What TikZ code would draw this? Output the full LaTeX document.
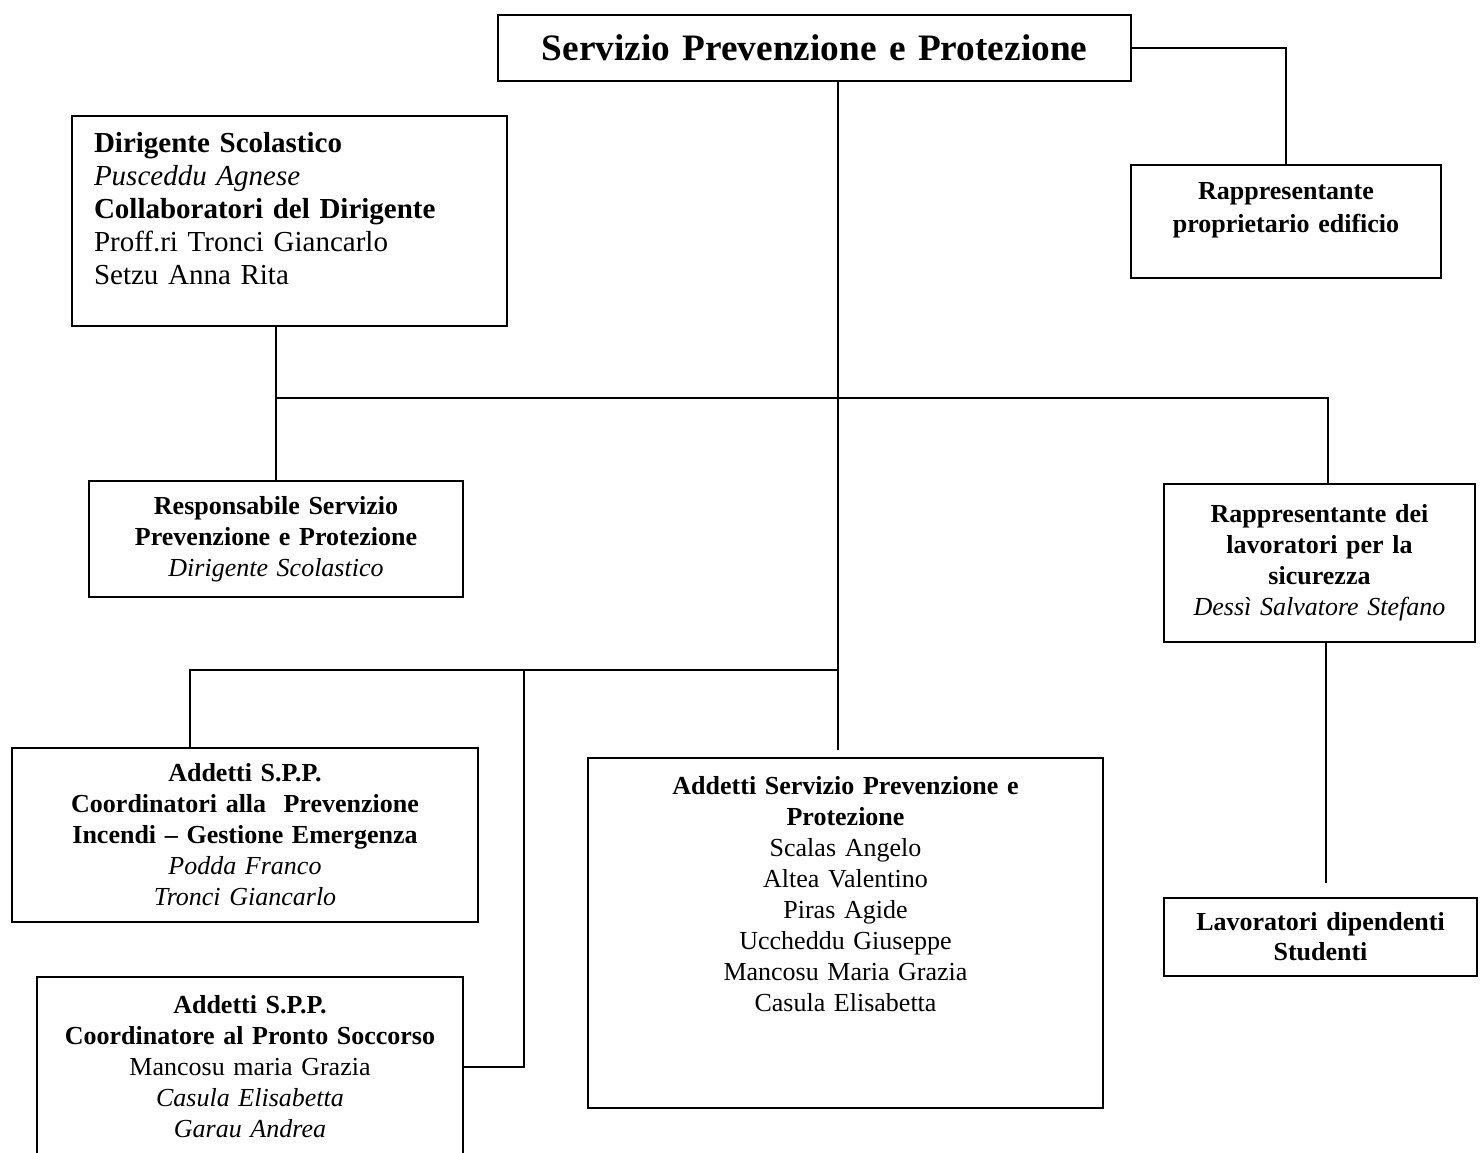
\documentclass[tikz,border=0pt]{standalone}
\usepackage{fontspec}
\setmainfont{Liberation Serif}
\tikzset{box/.style={draw, rectangle, line width=2pt, anchor=north west, inner sep=0pt, align=center}}
\tikzset{line/.style={draw, line width=2pt}}

\begin{document}
\begin{tikzpicture}[x=1pt, y=-1pt, font=\fontsize{26}{31}\selectfont]
    \useasboundingbox (0,0) rectangle (1481,1153);

    \node [box, minimum height=66pt, text width=633pt, font=\fontsize{37.3}{44}\selectfont\bfseries] (spp) at (497,14) {Servizio Prevenzione e Protezione};

    \node [box, align=left, inner xsep=22pt, text width=391pt, text height=37pt, text depth=173pt, font=\fontsize{29}{33}\selectfont] (dirigente) at (71,115) {\textbf{Dirigente Scolastico}\\ \textit{Pusceddu Agnese}\\ \textbf{Collaboratori del Dirigente}\\ Proff.ri Tronci Giancarlo\\ Setzu Anna Rita};
    \node [box, text width=310pt, text height=34pt, text depth=79pt, font=\fontsize{26}{33}\selectfont\bfseries] (proprietario) at (1130,164) {Rappresentante\\ proprietario edificio};

    \node [box, minimum height=116pt, text width=374pt] (responsabile) at (88,480) {\textbf{Responsabile Servizio}\\ \textbf{Prevenzione e Protezione}\\ \textit{Dirigente Scolastico}};
    \node [box, minimum height=158pt, text width=311pt] (rls) at (1163,483) {\textbf{Rappresentante dei}\\ \textbf{lavoratori per la}\\ \textbf{sicurezza}\\ \textit{Dessì Salvatore Stefano}};

    \node [box, minimum height=174pt, text width=466pt] (prevenzione) at (11,747) {\textbf{Addetti S.P.P.}\\ \textbf{Coordinatori alla\ \ Prevenzione}\\ \textbf{Incendi -- Gestione Emergenza}\\ \textit{Podda Franco}\\ \textit{Tronci Giancarlo}};
    \node [box, minimum height=180pt, text width=426pt] (pronto) at (36,976) {\textbf{Addetti S.P.P.}\\ \textbf{Coordinatore al Pronto Soccorso}\\ Mancosu maria Grazia\\ \textit{Casula Elisabetta}\\ \textit{Garau Andrea}};
    \node [box, text width=515pt, text height=36pt, text depth=314pt] (servizio) at (587,757) {\textbf{Addetti Servizio Prevenzione e}\\ \textbf{Protezione}\\ Scalas Angelo\\ Altea Valentino\\ Piras Agide\\ Uccheddu Giuseppe\\ Mancosu Maria Grazia\\ Casula Elisabetta};
    \node [box, minimum height=78pt, text width=313pt, font=\fontsize{26}{30}\selectfont\bfseries] (lavoratori) at (1163,897) {Lavoratori dipendenti\\ Studenti};

    \coordinate (hub) at (838,398);
    \coordinate (fork) at (838,670);
    \coordinate (trunkend) at (838,750);
    \coordinate (rlsjoin) at (1328,398);
    \coordinate (forkleft) at (190,670);
    \coordinate (soccorso) at (524,670);
    \coordinate (rlsend) at (1326,883);

    \path [line] (spp.east) -| (proprietario.north);
    \path [line] (spp.south -| hub) -- (trunkend);
    \path [line] (dirigente.south -| responsabile.north) -- (responsabile.north);
    \path [line] (hub -| responsabile.north) -- (rlsjoin) -- (rlsjoin |- rls.north);
    \path [line] (forkleft |- prevenzione.north) -- (forkleft) -- (fork);
    \path [line] (soccorso) |- (pronto.east);
    \path [line] (rls.south -| rlsend) -- (rlsend);
\end{tikzpicture}
\end{document}
